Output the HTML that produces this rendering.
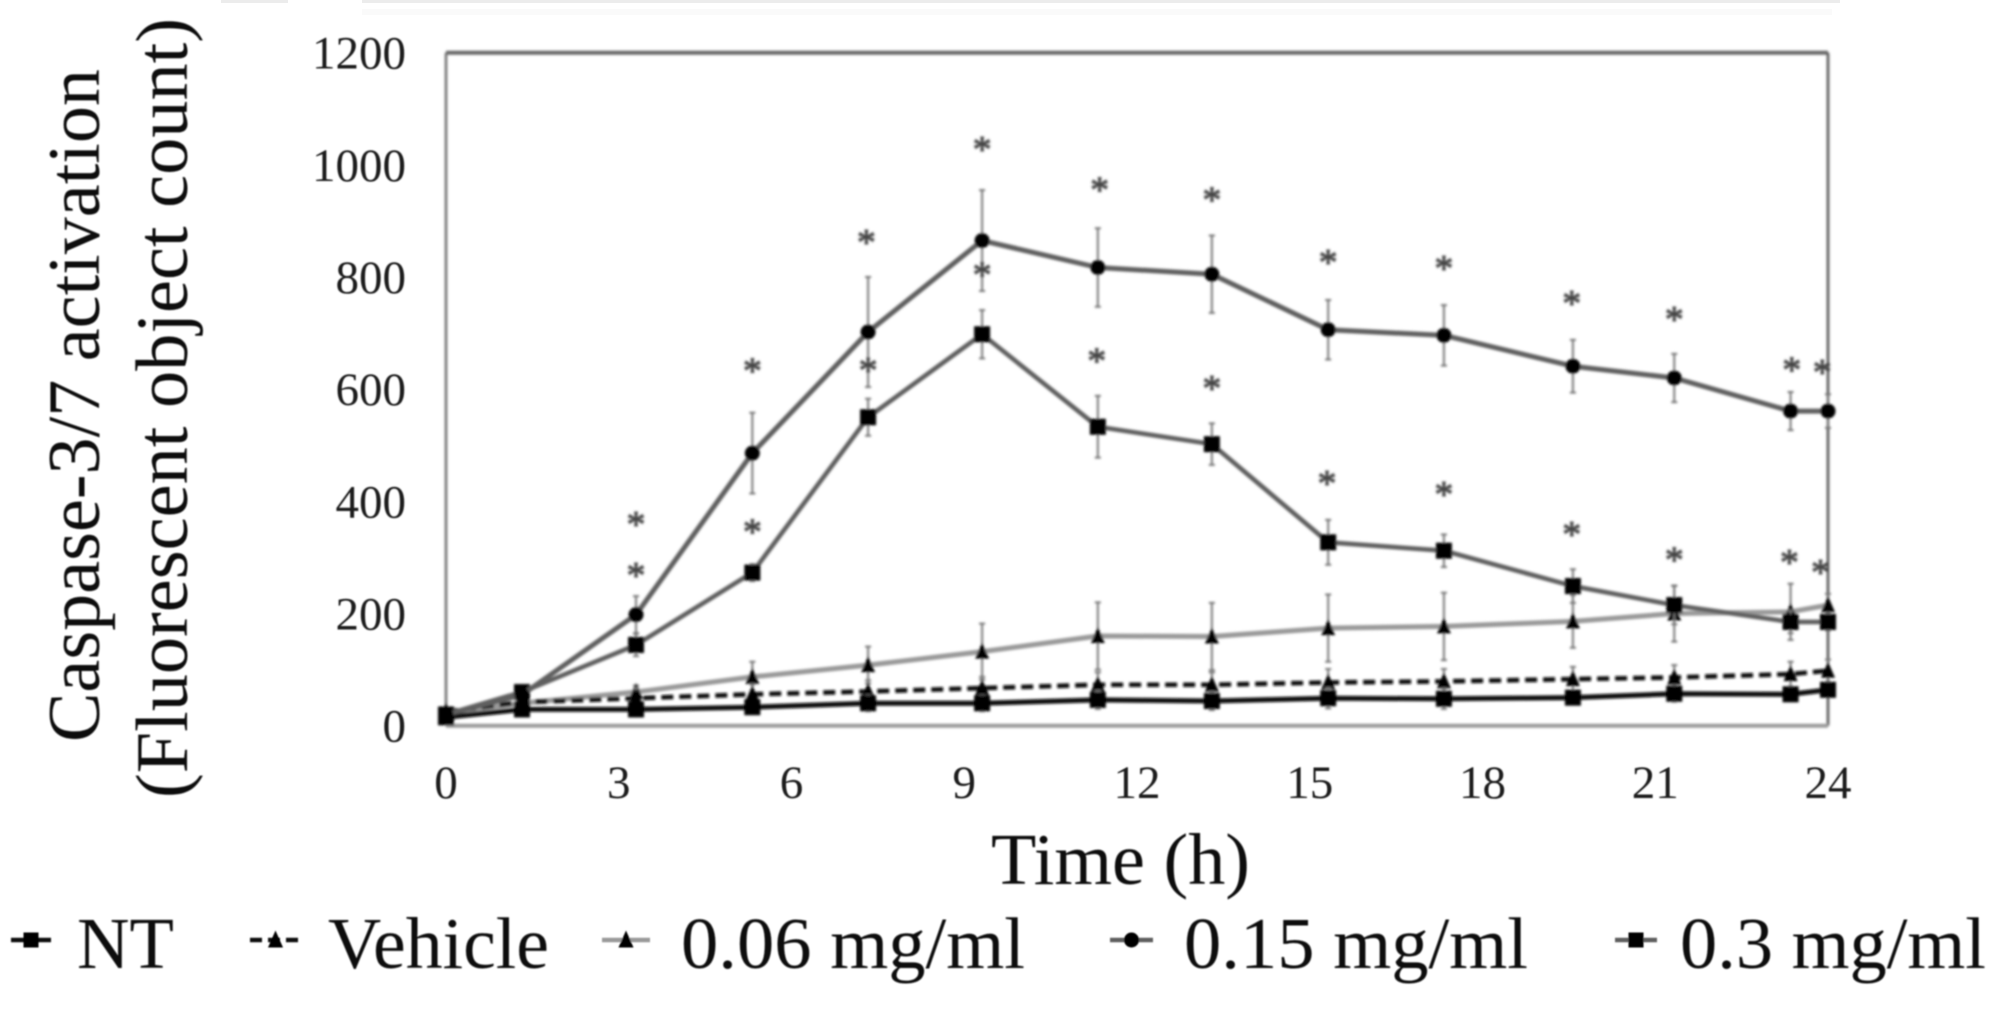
<!DOCTYPE html>
<html lang="en">
<head>
<meta charset="utf-8">
<title>Caspase-3/7 activation over time</title>
<style>
  html, body { margin: 0; padding: 0; background: #fff; }
  #chart { display: block; width: 2008px; height: 1010px; font-family: "Liberation Serif", serif; }
</style>
</head>
<body>
<svg id="chart" xmlns="http://www.w3.org/2000/svg" width="2008" height="1010" viewBox="0 0 2008 1010">
  <defs>
    <filter id="soft" x="-2%" y="-2%" width="104%" height="104%"><feGaussianBlur stdDeviation="1.2"/></filter>
    <filter id="softer" x="-2%" y="-2%" width="104%" height="104%"><feGaussianBlur stdDeviation="0.8"/></filter>
  </defs>
  <rect width="2008" height="1010" fill="#fff"/>
  <g>
    <rect x="221" y="0" width="67" height="3" fill="#ececec"/>
    <rect x="362" y="0" width="1478" height="3" fill="#ececec"/>
    <rect x="362" y="9" width="1470" height="6" fill="#fafafa"/>
  </g>
  <g id="plot" filter="url(#soft)"></g>
  <g id="labels" filter="url(#softer)" fill="#111">
    <text transform="translate(99,742) rotate(-90)" font-size="74" textLength="673" lengthAdjust="spacingAndGlyphs">Caspase-3/7 activation</text>
    <text transform="translate(187,798) rotate(-90)" font-size="74" textLength="780" lengthAdjust="spacingAndGlyphs">(Fluorescent object count)</text>
    <text x="991" y="884" font-size="73" textLength="259" lengthAdjust="spacingAndGlyphs">Time (h)</text>
  </g>
  <g id="legend" filter="url(#softer)"></g>
</svg>
<script>
// ---- Data ----
const hours = [0, 1.32, 3.3, 5.32, 7.33, 9.31, 11.32, 13.3, 15.32, 17.33, 19.57, 21.33, 23.35, 24];

const ntValues       = [15, 29, 29, 33, 40, 40, 46, 44, 49, 48, 50, 57, 56, 64];
const vehicleValues  = [25, 42, 49, 56, 61, 67, 73, 73, 77, 79, 83, 86, 92, 98];
const lowDoseValues  = [22, 40, 60, 87, 108, 132, 160, 159, 174, 177, 186, 200, 203, 215];
const midDoseValues  = [20, 55, 198, 486, 702, 865, 817, 805, 706, 696, 641, 620, 561, 561];
const highDoseValues = [20, 60, 144, 273, 550, 698, 533, 502, 327, 312, 249, 215, 185, 185];

const ntErrors       = [10, 10, 12, 12, 14, 14, 16, 16, 18, 18, 12, 14, 12, 12];
const vehicleErrors  = [8, 10, 18, 18, 20, 20, 22, 22, 24, 22, 22, 22, 22, 20];
const lowDoseErrors  = [6, 6, 12, 27, 33, 50, 60, 60, 60, 60, 47, 50, 50, 20];
const midDoseErrors  = [5, 10, 33, 72, 98, 90, 70, 69, 53, 54, 47, 43, 34, 30];
const highDoseErrors = [5, 12, 20, 15, 33, 43, 55, 37, 40, 29, 30, 34, 20, 15];

const starHoursUpper  = [3.3, 5.32, 7.3, 9.31, 11.35, 13.3, 15.32, 17.33, 19.55, 21.33, 23.37, 23.9];
const starValuesUpper = [369, 642, 871, 1037, 965, 947, 836, 825, 763, 734, 644, 640];
const starHoursLower  = [3.3, 5.32, 7.33, 9.31, 11.3, 13.3, 15.3, 17.33, 19.55, 21.33, 23.33, 23.87];
const starValuesLower = [278, 355, 643, 813, 660, 611, 442, 422, 351, 305, 301, 283];

const yTickLabels = [0, 200, 400, 600, 800, 1000, 1200];
const xTickLabels = [0, 3, 6, 9, 12, 15, 18, 21, 24];

const seriesNames = ['0.06 mg/ml', 'Vehicle', 'NT', '0.3 mg/ml', '0.15 mg/ml'];

// ---- Axis functions ----
const SVG_NS = 'http://www.w3.org/2000/svg';
function xScale(h) { return 446 + (h / 24) * (1828 - 446); }
function yScale(v) { return 725.7 - (v / 1200) * (725.7 - 52.7); }

function make(tag, attrs, parent) {
  const el = document.createElementNS(SVG_NS, tag);
  for (const k in attrs) el.setAttribute(k, attrs[k]);
  parent.appendChild(el);
  return el;
}

function drawMarker(shape, cx, cy, size, parent, fill) {
  const r = size / 2;
  let el;
  if (shape === 'circle') {
    el = make('circle', { cx: cx, cy: cy, r: r }, parent);
  } else if (shape === 'square') {
    el = make('rect', { x: cx - r, y: cy - r, width: size, height: size }, parent);
  } else {
    el = make('polygon', { points: (cx) + ',' + (cy - r - 2) + ' ' + (cx + r) + ',' + (cy + r) + ' ' + (cx - r) + ',' + (cy + r) }, parent);
  }
  el.setAttribute('fill', fill);
  
  
  return el;
}

const plot = document.getElementById('plot');
const labels = document.getElementById('labels');
const legend = document.getElementById('legend');

// ---- Frame ----
const frameTop = make('line', { x1: xScale(0), x2: xScale(24), y1: yScale(1200), y2: yScale(1200), stroke: '#666', 'stroke-width': 4 }, plot);


const frameLeft = make('line', { x1: xScale(0), x2: xScale(0), y1: yScale(1200), y2: yScale(0), stroke: '#666', 'stroke-width': 2.4 }, plot);


const frameRight = make('line', { x1: xScale(24), x2: xScale(24), y1: yScale(1200), y2: yScale(0), stroke: '#555', 'stroke-width': 2.6 }, plot);


const frameBottom = make('line', { x1: xScale(0), x2: xScale(24), y1: yScale(0), y2: yScale(0), stroke: '#999', 'stroke-width': 4 }, plot);



// ---- Tick labels ----
yTickLabels.forEach(function (v) {
  const t = make('text', { x: 406, y: yScale(v) + 16, 'text-anchor': 'end', 'font-size': 47, fill: '#1a1a1a' }, labels);
  
  
  t.textContent = String(v);
});
xTickLabels.forEach(function (h) {
  const t = make('text', { x: xScale(h), y: 798, 'text-anchor': 'middle', 'font-size': 47, fill: '#1a1a1a' }, labels);
  
  
  t.textContent = String(h);
});

// ---- Series ----
const seriesValues = [lowDoseValues, vehicleValues, ntValues, highDoseValues, midDoseValues];
const seriesErrors = [lowDoseErrors, vehicleErrors, ntErrors, highDoseErrors, midDoseErrors];
const seriesStroke = ['#999', '#111', '#0a0a0a', '#5f5f5f', '#5f5f5f'];
const seriesWidth  = [5, 4.6, 5, 4.6, 5];
const seriesDash   = ['', '12 6', '', '', ''];
const seriesShape  = ['triangle', 'triangle', 'square', 'square', 'circle'];
const seriesMarker = [14, 14, 16, 16, 15];

seriesValues.forEach(function (values, i) {
  const g = make('g', {}, plot);
  
  

  values.forEach(function (v, j) {
    const e = seriesErrors[i][j];
    const x = xScale(hours[j]);
    const bar = make('path', {
      d: 'M' + x + ' ' + yScale(v + e) + 'V' + yScale(v - e) +
         'M' + (x - 3) + ' ' + yScale(v + e) + 'H' + (x + 3) +
         'M' + (x - 3) + ' ' + yScale(v - e) + 'H' + (x + 3),
      stroke: '#777', 'stroke-width': 2, fill: 'none'
    }, g);
    
    
  });

  const line = make('polyline', {
    points: values.map(function (v, j) { return xScale(hours[j]) + ',' + yScale(v); }).join(' '),
    fill: 'none', stroke: seriesStroke[i], 'stroke-width': seriesWidth[i], 'stroke-linejoin': 'round'
  }, g);
  if (seriesDash[i]) line.setAttribute('stroke-dasharray', seriesDash[i]);
  
  

  values.forEach(function (v, j) {
    drawMarker(seriesShape[i], xScale(hours[j]), yScale(v), seriesMarker[i], g, '#000');
  });
});

// ---- Significance stars ----
function drawStars(hoursList, valuesList, name) {
  hoursList.forEach(function (h, j) {
    const s = make('text', { x: xScale(h), y: yScale(valuesList[j]) + 18, 'text-anchor': 'middle', 'font-size': 38, fill: '#444', stroke: '#444', 'stroke-width': 0.9 }, plot);
    
    
    s.textContent = '*';
  });
}
drawStars(starHoursUpper, starValuesUpper, 'significance-star-upper');
drawStars(starHoursLower, starValuesLower, 'significance-star-lower');

// ---- Legend ----
const legendLabels = ['NT', 'Vehicle', '0.06 mg/ml', '0.15 mg/ml', '0.3 mg/ml'];
const legendTextStart = [77, 328, 681, 1184, 1680];
const legendTextWidth = [97, 221, 344, 344, 306];
const legendKeyStart  = [11, 250, 602, 1110, 1615];
const legendKeyEnd    = [51, 301, 650, 1153, 1657];
const legendStroke = ['#111', '#111', '#999', '#5f5f5f', '#5f5f5f'];
const legendDash   = ['', '12 6', '', '', ''];
const legendShape  = ['square', 'triangle', 'triangle', 'circle', 'square'];

legendLabels.forEach(function (name, i) {
  const g = make('g', {}, legend);
  
  
  const key = make('line', { x1: legendKeyStart[i], x2: legendKeyEnd[i], y1: 940, y2: 940, stroke: legendStroke[i], 'stroke-width': 4.6 }, g);
  if (legendDash[i]) key.setAttribute('stroke-dasharray', legendDash[i]);
  
  
  drawMarker(legendShape[i], (legendKeyStart[i] + legendKeyEnd[i]) / 2, 940, 15, g, '#000');
  const t = make('text', { x: legendTextStart[i], y: 968, 'font-size': 73, fill: '#111', textLength: legendTextWidth[i], lengthAdjust: 'spacingAndGlyphs' }, g);
  
  
  t.textContent = name;
});
</script>
</body>
</html>
